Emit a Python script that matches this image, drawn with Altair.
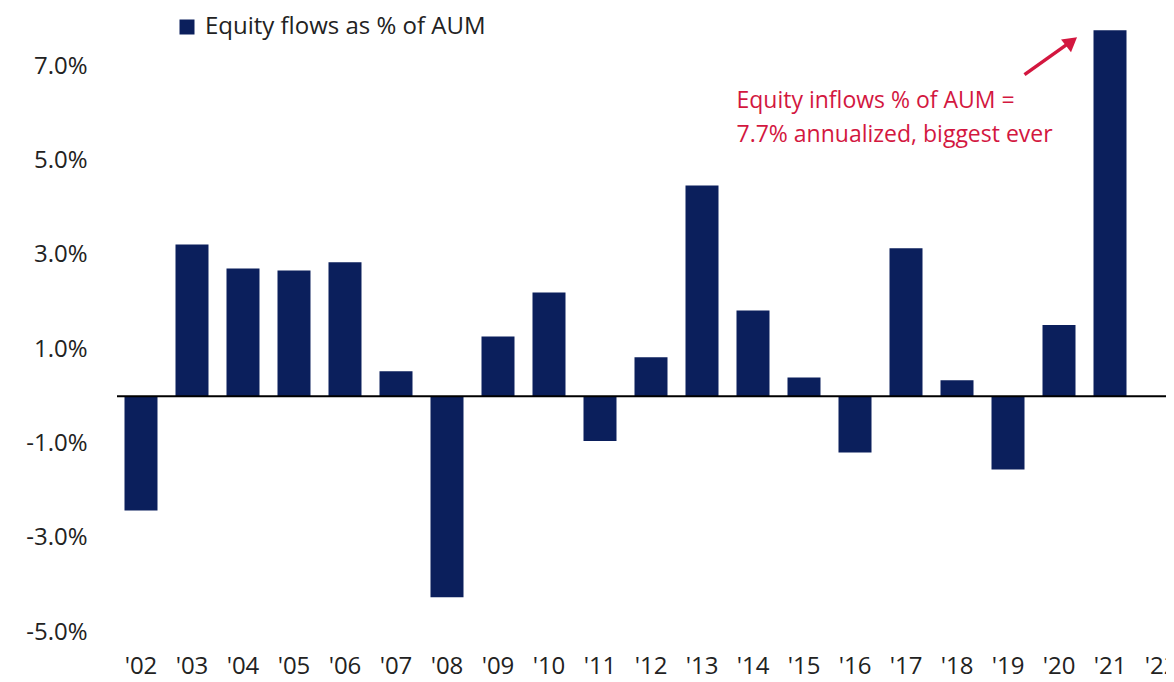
import altair as alt
import pandas as pd

years = ["'02", "'03", "'04", "'05", "'06", "'07", "'08", "'09", "'10", "'11",
         "'12", "'13", "'14", "'15", "'16", "'17", "'18", "'19", "'20", "'21", "'22"]
flows = [-2.42, 3.22, 2.71, 2.67, 2.84, 0.53, -4.26, 1.27, 2.20, -0.95,
         0.83, 4.47, 1.82, 0.40, -1.19, 3.14, 0.34, -1.55, 1.51, 7.76]
series_name = "Equity flows as % of AUM"
y_ticks = [-5, -3, -1, 1, 3, 5, 7]

anno_lines = ["Equity inflows % of AUM =", "7.7% annualized, biggest ever"]
anno_y = [6.27, 5.53]

NAVY = "#0b1f5c"
RED = "#d3173f"
FONT = "Open Sans"
LABEL = "#222222"

df = pd.DataFrame({"year": years[:len(flows)], "flow": flows, "series": series_name})
anno_df = pd.DataFrame({"txt": anno_lines, "yy": anno_y})

xscale = alt.Scale(domain=years, range=[0, 1068], paddingInner=0.353, paddingOuter=0.147)
yscale = alt.Scale(domain=[-5.4, 8.0], nice=False, zero=False)

bars = alt.Chart(df).mark_bar(color=NAVY).encode(
    x=alt.X("year:N", scale=xscale, sort=years, title=None,
            axis=alt.Axis(labelAngle=0, ticks=False, domain=False, labelPadding=22,
                          labelBaseline="alphabetic",
                          labelFontSize=24, labelFont=FONT, labelColor=LABEL)),
    y=alt.Y("flow:Q", scale=yscale, title=None,
            axis=alt.Axis(values=y_ticks,
                          labelExpr="(datum.value < 0 ? '-' : '') + format(abs(datum.value), '.1f') + '%'",
                          ticks=False, domain=False, grid=False, labelPadding=30,
                          labelFontSize=24, labelFont=FONT, labelColor=LABEL)),
    color=alt.Color("series:N", scale=alt.Scale(range=[NAVY]),
                    legend=alt.Legend(orient="none", legendX=58, legendY=-4, title=None,
                                      symbolType="square", symbolSize=225,
                                      symbolStrokeWidth=0, labelFontSize=24, labelLimit=0,
                                      labelFont=FONT, labelColor=LABEL, labelOffset=6)),
)

zero = alt.Chart(pd.DataFrame({"z": [0]})).mark_rule(color="black", strokeWidth=2).encode(
    y=alt.Y("z:Q", scale=yscale)
)

anno = alt.Chart(anno_df).mark_text(
    align="left", baseline="middle", color=RED, fontSize=23, font=FONT
).encode(
    x=alt.X(datum="'14", bandPosition=0, scale=xscale),
    y=alt.Y("yy:Q", scale=yscale),
    text="txt:N",
)

arrow_line = alt.Chart(pd.DataFrame({"y1": [6.82], "y2": [7.52]})).mark_rule(
    color=RED, strokeWidth=3.5
).encode(
    x=alt.X(datum="'19", bandPosition=1, scale=xscale),
    x2=alt.X2(datum="'20", bandPosition=0.86),
    y=alt.Y("y1:Q", scale=yscale),
    y2="y2:Q",
)

arrow_head = alt.Chart(pd.DataFrame({"yh": [7.52]})).mark_point(
    shape="triangle-up", filled=True, color=RED, size=260, angle=52, opacity=1
).encode(
    x=alt.X(datum="'20", bandPosition=0.88, scale=xscale),
    y=alt.Y("yh:Q", scale=yscale),
)

chart = alt.layer(bars, zero, anno, arrow_line, arrow_head).properties(
    width=1049, height=632,
    background="white",
    autosize=alt.AutoSizeParams(type="none"),
    padding={"left": 109, "top": 11, "right": 0, "bottom": 30},
).configure_view(stroke=None)

chart.save("out.html", embed_options={"renderer": "svg", "actions": False})
